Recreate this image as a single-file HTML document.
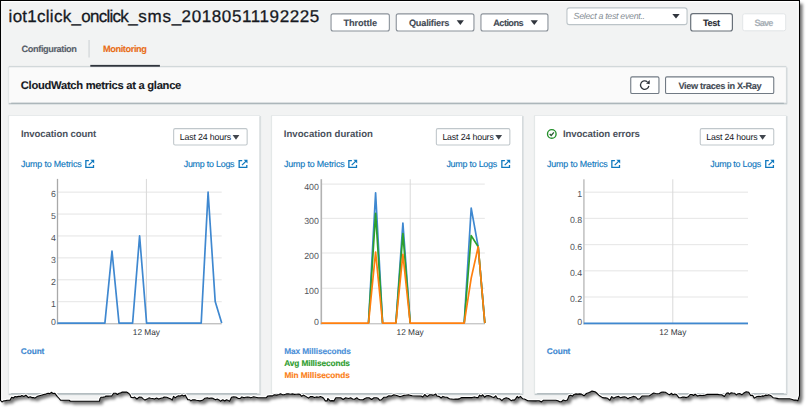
<!DOCTYPE html>
<html>
<head>
<meta charset="utf-8">
<title>Lambda monitoring</title>
<style>
html,body{margin:0;padding:0;background:#fff;}
body{width:810px;height:412px;position:relative;overflow:hidden;font-family:"Liberation Sans",sans-serif;}
#page{position:absolute;left:0;top:0;width:810px;height:412px;overflow:hidden;}
#bg{position:absolute;left:0;top:0;}
.t{position:absolute;white-space:nowrap;line-height:20px;text-rendering:geometricPrecision;}
</style>
</head>
<body>
<div id="page">
<svg id="bg" width="810" height="412" viewBox="0 0 810 412">
<defs>
<filter id="sh" x="-5%" y="-5%" width="110%" height="110%"><feGaussianBlur stdDeviation="1.6"/></filter>
<clipPath id="tear"><path d="M0.5,0.5 L799.5,0.5 L799.5,395.8 L799.5,395.8 L798.9,397.4 L797.8,400.8 L796.0,400.1 L793.7,400.1 L791.4,399.2 L789.6,398.8 L778.8,398.8 L777.0,398.4 L775.2,398.0 L773.3,397.8 L770.6,395.4 L768.6,394.7 L767.1,395.4 L765.3,395.1 L763.8,396.1 L762.2,395.9 L760.4,396.5 L759.0,396.3 L757.0,396.5 L754.3,398.1 L752.6,395.3 L750.6,395.4 L748.9,392.4 L746.2,391.7 L743.5,393.3 L741.8,394.8 L740.0,393.6 L738.0,393.7 L736.3,394.9 L734.7,393.3 L732.7,393.0 L731.2,392.7 L729.4,394.1 L728.2,392.9 L726.5,393.3 L724.4,396.5 L721.7,394.7 L719.9,394.8 L717.7,394.4 L706.8,394.4 L704.0,395.4 L702.0,395.5 L700.0,395.2 L697.5,396.0 L695.1,394.1 L693.6,395.5 L692.0,394.5 L690.1,394.5 L688.2,396.8 L686.3,397.6 L684.0,397.0 L682.6,397.1 L680.8,397.7 L679.0,397.8 L676.5,394.5 L674.7,394.1 L673.0,394.8 L671.6,393.3 L669.6,394.8 L667.9,393.9 L665.4,392.3 L663.0,392.0 L661.0,392.4 L659.3,393.5 L657.4,393.7 L655.5,393.5 L653.8,393.0 L651.9,394.1 L649.4,395.8 L642.0,396.0 L639.5,398.8 L637.7,399.1 L635.8,397.0 L633.3,396.4 L631.3,397.3 L629.6,397.6 L628.0,398.8 L626.5,397.6 L624.4,396.7 L622.7,397.1 L620.4,397.7 L618.5,396.4 L616.0,397.0 L613.6,398.2 L611.7,396.6 L609.9,400.3 L607.4,398.2 L605.7,397.7 L604.3,397.9 L602.5,397.6 L600.0,396.0 L598.8,395.1 L597.0,393.3 L595.0,391.7 L592.0,391.1 L590.3,391.9 L588.5,392.7 L586.4,393.5 L584.0,395.8 L581.5,394.1 L579.6,393.9 L577.9,394.1 L575.6,393.9 L574.0,394.5 L572.4,396.1 L570.6,395.2 L569.1,395.8 L567.3,400.1 L565.4,400.7 L563.3,400.0 L561.5,401.6 L559.7,401.8 L557.9,400.7 L555.9,400.3 L554.3,400.3 L543.2,400.3 L541.5,401.9 L539.2,400.7 L537.4,400.7 L535.8,400.9 L527.8,400.7 L525.9,399.7 L524.4,399.0 L522.8,398.8 L520.4,396.4 L518.7,397.9 L517.3,396.4 L515.7,398.6 L514.2,400.3 L512.8,399.9 L511.1,400.7 L508.6,398.5 L506.2,397.8 L503.8,398.7 L501.9,400.7 L500.0,398.8 L497.5,398.5 L495.7,395.8 L493.8,397.6 L492.2,397.1 L490.1,396.0 L488.3,395.6 L486.4,395.8 L484.6,397.2 L482.7,394.8 L481.1,396.1 L479.6,395.1 L478.2,397.6 L476.5,397.6 L474.4,396.9 L472.2,397.6 L470.4,397.6 L461.7,397.6 L459.8,398.6 L458.0,399.1 L455.7,399.0 L453.5,399.3 L451.3,399.0 L449.4,398.8 L446.9,397.2 L445.2,397.3 L442.9,396.4 L441.1,398.0 L439.5,396.6 L437.0,396.0 L435.8,393.9 L434.3,394.7 L432.7,395.1 L431.4,394.8 L429.6,394.8 L427.2,396.6 L424.7,394.5 L422.8,397.0 L421.0,396.0 L412.3,395.8 L410.4,395.4 L408.6,394.8 L407.1,395.0 L405.4,395.2 L403.7,395.4 L402.0,396.1 L400.0,396.8 L397.5,395.8 L395.8,395.3 L393.8,394.8 L391.4,396.0 L388.9,395.8 L386.4,397.2 L384.0,397.2 L381.5,399.7 L379.6,400.1 L378.1,398.3 L376.5,397.8 L374.0,397.8 L371.6,399.5 L369.1,397.8 L366.7,397.8 L364.9,398.5 L363.0,399.7 L361.5,399.7 L359.9,399.7 L358.2,398.9 L356.8,397.8 L354.5,399.3 L352.7,399.0 L350.6,397.8 L348.8,398.5 L347.5,398.2 L345.7,397.8 L343.2,399.5 L340.7,397.8 L339.1,397.7 L337.7,397.8 L335.8,397.8 L334.0,400.9 L332.0,400.6 L330.2,400.9 L327.8,398.5 L327.2,400.9 L325.3,400.9 L323.6,398.3 L322.2,397.2 L320.4,396.5 L318.5,397.2 L316.5,396.9 L314.3,397.6 L312.3,396.6 L310.6,396.5 L308.4,398.1 L306.2,396.6 L303.7,395.1 L301.6,396.3 L300.0,394.4 L298.3,394.1 L296.4,394.2 L294.3,394.4 L292.4,393.9 L290.4,394.2 L288.4,393.7 L286.4,393.9 L284.0,394.8 L282.6,394.7 L280.5,393.8 L279.0,394.5 L276.5,395.1 L274.3,394.7 L272.5,395.9 L270.2,395.7 L267.9,396.0 L266.0,397.8 L258.0,397.8 L255.6,397.2 L253.7,396.8 L252.3,397.3 L250.6,397.8 L249.4,397.2 L247.7,397.0 L245.7,397.2 L244.1,397.7 L241.9,396.9 L240.3,398.4 L238.3,398.5 L235.8,397.0 L233.5,396.9 L231.5,397.2 L229.6,401.2 L228.3,400.6 L226.5,399.7 L224.7,401.0 L222.8,399.7 L220.4,401.2 L219.1,399.9 L217.3,399.1 L215.5,399.8 L213.1,398.4 L211.3,398.0 L209.2,398.4 L207.4,397.8 L205.0,398.2 L202.5,400.3 L200.0,400.9 L198.0,400.5 L196.3,400.3 L194.8,399.9 L192.7,399.7 L190.9,400.9 L189.5,399.7 L187.8,399.6 L186.4,397.2 L185.2,395.1 L183.7,396.0 L182.1,395.1 L180.2,396.0 L178.5,395.8 L177.0,396.4 L175.3,397.8 L173.5,396.4 L172.2,400.1 L171.0,399.1 L169.0,398.2 L166.7,397.2 L164.2,397.0 L163.0,397.8 L160.9,398.2 L158.7,399.1 L156.6,398.1 L154.5,399.1 L152.6,398.5 L150.6,398.2 L149.0,397.9 L147.0,399.1 L145.0,400.1 L143.2,398.9 L141.4,397.2 L139.5,397.0 L138.3,397.8 L136.9,399.0 L134.7,397.1 L133.3,397.8 L131.2,397.4 L129.6,394.1 L127.8,392.8 L126.5,392.0 L124.2,392.1 L122.2,392.0 L121.0,392.9 L119.2,393.2 L117.4,394.5 L115.7,393.2 L113.6,393.3 L111.7,396.0 L109.9,396.0 L108.1,396.1 L106.0,396.0 L105.0,396.8 L103.2,397.1 L101.2,397.2 L100.0,398.5 L99.5,401.2 L70.4,401.2 L69.1,400.3 L60.5,400.1 L58.7,398.0 L57.4,396.6 L54.9,393.3 L53.0,393.5 L51.6,392.3 L49.8,393.6 L48.1,393.3 L45.7,394.1 L43.7,394.5 L41.4,395.2 L39.3,395.8 L37.0,396.6 L34.9,398.1 L33.3,397.6 L31.8,397.6 L30.2,396.8 L28.4,397.6 L25.9,395.1 L23.8,396.5 L21.9,395.6 L20.4,396.4 L18.5,396.4 L16.6,396.9 L15.1,396.5 L13.4,398.0 L11.7,397.2 L9.9,400.3 L7.6,400.2 L5.5,400.6 L3.7,400.9 L2.0,402.0 L0.5,400.3 Z"/></clipPath>
</defs>
<path d="M0.5,0.5 L799.5,0.5 L799.5,395.8 L799.5,395.8 L798.9,397.4 L797.8,400.8 L796.0,400.1 L793.7,400.1 L791.4,399.2 L789.6,398.8 L778.8,398.8 L777.0,398.4 L775.2,398.0 L773.3,397.8 L770.6,395.4 L768.6,394.7 L767.1,395.4 L765.3,395.1 L763.8,396.1 L762.2,395.9 L760.4,396.5 L759.0,396.3 L757.0,396.5 L754.3,398.1 L752.6,395.3 L750.6,395.4 L748.9,392.4 L746.2,391.7 L743.5,393.3 L741.8,394.8 L740.0,393.6 L738.0,393.7 L736.3,394.9 L734.7,393.3 L732.7,393.0 L731.2,392.7 L729.4,394.1 L728.2,392.9 L726.5,393.3 L724.4,396.5 L721.7,394.7 L719.9,394.8 L717.7,394.4 L706.8,394.4 L704.0,395.4 L702.0,395.5 L700.0,395.2 L697.5,396.0 L695.1,394.1 L693.6,395.5 L692.0,394.5 L690.1,394.5 L688.2,396.8 L686.3,397.6 L684.0,397.0 L682.6,397.1 L680.8,397.7 L679.0,397.8 L676.5,394.5 L674.7,394.1 L673.0,394.8 L671.6,393.3 L669.6,394.8 L667.9,393.9 L665.4,392.3 L663.0,392.0 L661.0,392.4 L659.3,393.5 L657.4,393.7 L655.5,393.5 L653.8,393.0 L651.9,394.1 L649.4,395.8 L642.0,396.0 L639.5,398.8 L637.7,399.1 L635.8,397.0 L633.3,396.4 L631.3,397.3 L629.6,397.6 L628.0,398.8 L626.5,397.6 L624.4,396.7 L622.7,397.1 L620.4,397.7 L618.5,396.4 L616.0,397.0 L613.6,398.2 L611.7,396.6 L609.9,400.3 L607.4,398.2 L605.7,397.7 L604.3,397.9 L602.5,397.6 L600.0,396.0 L598.8,395.1 L597.0,393.3 L595.0,391.7 L592.0,391.1 L590.3,391.9 L588.5,392.7 L586.4,393.5 L584.0,395.8 L581.5,394.1 L579.6,393.9 L577.9,394.1 L575.6,393.9 L574.0,394.5 L572.4,396.1 L570.6,395.2 L569.1,395.8 L567.3,400.1 L565.4,400.7 L563.3,400.0 L561.5,401.6 L559.7,401.8 L557.9,400.7 L555.9,400.3 L554.3,400.3 L543.2,400.3 L541.5,401.9 L539.2,400.7 L537.4,400.7 L535.8,400.9 L527.8,400.7 L525.9,399.7 L524.4,399.0 L522.8,398.8 L520.4,396.4 L518.7,397.9 L517.3,396.4 L515.7,398.6 L514.2,400.3 L512.8,399.9 L511.1,400.7 L508.6,398.5 L506.2,397.8 L503.8,398.7 L501.9,400.7 L500.0,398.8 L497.5,398.5 L495.7,395.8 L493.8,397.6 L492.2,397.1 L490.1,396.0 L488.3,395.6 L486.4,395.8 L484.6,397.2 L482.7,394.8 L481.1,396.1 L479.6,395.1 L478.2,397.6 L476.5,397.6 L474.4,396.9 L472.2,397.6 L470.4,397.6 L461.7,397.6 L459.8,398.6 L458.0,399.1 L455.7,399.0 L453.5,399.3 L451.3,399.0 L449.4,398.8 L446.9,397.2 L445.2,397.3 L442.9,396.4 L441.1,398.0 L439.5,396.6 L437.0,396.0 L435.8,393.9 L434.3,394.7 L432.7,395.1 L431.4,394.8 L429.6,394.8 L427.2,396.6 L424.7,394.5 L422.8,397.0 L421.0,396.0 L412.3,395.8 L410.4,395.4 L408.6,394.8 L407.1,395.0 L405.4,395.2 L403.7,395.4 L402.0,396.1 L400.0,396.8 L397.5,395.8 L395.8,395.3 L393.8,394.8 L391.4,396.0 L388.9,395.8 L386.4,397.2 L384.0,397.2 L381.5,399.7 L379.6,400.1 L378.1,398.3 L376.5,397.8 L374.0,397.8 L371.6,399.5 L369.1,397.8 L366.7,397.8 L364.9,398.5 L363.0,399.7 L361.5,399.7 L359.9,399.7 L358.2,398.9 L356.8,397.8 L354.5,399.3 L352.7,399.0 L350.6,397.8 L348.8,398.5 L347.5,398.2 L345.7,397.8 L343.2,399.5 L340.7,397.8 L339.1,397.7 L337.7,397.8 L335.8,397.8 L334.0,400.9 L332.0,400.6 L330.2,400.9 L327.8,398.5 L327.2,400.9 L325.3,400.9 L323.6,398.3 L322.2,397.2 L320.4,396.5 L318.5,397.2 L316.5,396.9 L314.3,397.6 L312.3,396.6 L310.6,396.5 L308.4,398.1 L306.2,396.6 L303.7,395.1 L301.6,396.3 L300.0,394.4 L298.3,394.1 L296.4,394.2 L294.3,394.4 L292.4,393.9 L290.4,394.2 L288.4,393.7 L286.4,393.9 L284.0,394.8 L282.6,394.7 L280.5,393.8 L279.0,394.5 L276.5,395.1 L274.3,394.7 L272.5,395.9 L270.2,395.7 L267.9,396.0 L266.0,397.8 L258.0,397.8 L255.6,397.2 L253.7,396.8 L252.3,397.3 L250.6,397.8 L249.4,397.2 L247.7,397.0 L245.7,397.2 L244.1,397.7 L241.9,396.9 L240.3,398.4 L238.3,398.5 L235.8,397.0 L233.5,396.9 L231.5,397.2 L229.6,401.2 L228.3,400.6 L226.5,399.7 L224.7,401.0 L222.8,399.7 L220.4,401.2 L219.1,399.9 L217.3,399.1 L215.5,399.8 L213.1,398.4 L211.3,398.0 L209.2,398.4 L207.4,397.8 L205.0,398.2 L202.5,400.3 L200.0,400.9 L198.0,400.5 L196.3,400.3 L194.8,399.9 L192.7,399.7 L190.9,400.9 L189.5,399.7 L187.8,399.6 L186.4,397.2 L185.2,395.1 L183.7,396.0 L182.1,395.1 L180.2,396.0 L178.5,395.8 L177.0,396.4 L175.3,397.8 L173.5,396.4 L172.2,400.1 L171.0,399.1 L169.0,398.2 L166.7,397.2 L164.2,397.0 L163.0,397.8 L160.9,398.2 L158.7,399.1 L156.6,398.1 L154.5,399.1 L152.6,398.5 L150.6,398.2 L149.0,397.9 L147.0,399.1 L145.0,400.1 L143.2,398.9 L141.4,397.2 L139.5,397.0 L138.3,397.8 L136.9,399.0 L134.7,397.1 L133.3,397.8 L131.2,397.4 L129.6,394.1 L127.8,392.8 L126.5,392.0 L124.2,392.1 L122.2,392.0 L121.0,392.9 L119.2,393.2 L117.4,394.5 L115.7,393.2 L113.6,393.3 L111.7,396.0 L109.9,396.0 L108.1,396.1 L106.0,396.0 L105.0,396.8 L103.2,397.1 L101.2,397.2 L100.0,398.5 L99.5,401.2 L70.4,401.2 L69.1,400.3 L60.5,400.1 L58.7,398.0 L57.4,396.6 L54.9,393.3 L53.0,393.5 L51.6,392.3 L49.8,393.6 L48.1,393.3 L45.7,394.1 L43.7,394.5 L41.4,395.2 L39.3,395.8 L37.0,396.6 L34.9,398.1 L33.3,397.6 L31.8,397.6 L30.2,396.8 L28.4,397.6 L25.9,395.1 L23.8,396.5 L21.9,395.6 L20.4,396.4 L18.5,396.4 L16.6,396.9 L15.1,396.5 L13.4,398.0 L11.7,397.2 L9.9,400.3 L7.6,400.2 L5.5,400.6 L3.7,400.9 L2.0,402.0 L0.5,400.3 Z" transform="translate(3.1,3.2)" fill="#000" fill-opacity="0.54" filter="url(#sh)"/>
<g clip-path="url(#tear)">
<rect x="0" y="0" width="800" height="412" fill="#f2f3f3"/>
<rect x="0.00" y="0.00" width="2.20" height="412.00" fill="#fff"/>
<rect x="0.00" y="0.00" width="800.00" height="1.90" fill="#fff"/>
<rect x="797.80" y="0.00" width="2.20" height="412.00" fill="#fff"/>
<rect x="8.50" y="101.60" width="778.80" height="3.30" fill="#e3e7e8"/>
<rect x="8.70" y="101.60" width="778.40" height="2.50" fill="#acb6ba"/>
<rect x="7.60" y="67.10" width="3.00" height="36.10" fill="#ebeeee"/>
<rect x="8.20" y="66.90" width="3.00" height="36.30" fill="#e3e6e7"/>
<rect x="783.90" y="67.60" width="3.90" height="35.80" fill="#e6e9ea"/>
<rect x="783.90" y="67.50" width="3.40" height="35.80" fill="#d5dadc"/>
<rect x="8.80" y="65.90" width="777.60" height="2.00" fill="#d2d8da"/>
<rect x="9.10" y="67.30" width="776.80" height="35.30" fill="#fafafa"/>
<rect x="8.50" y="392.10" width="252.20" height="3.30" fill="#e3e7e8"/>
<rect x="8.70" y="392.10" width="251.80" height="2.50" fill="#acb6ba"/>
<rect x="7.60" y="115.60" width="3.00" height="278.10" fill="#ebeeee"/>
<rect x="8.20" y="115.40" width="3.00" height="278.30" fill="#e3e6e7"/>
<rect x="257.30" y="116.10" width="3.90" height="277.80" fill="#e6e9ea"/>
<rect x="257.30" y="116.00" width="3.40" height="277.80" fill="#d5dadc"/>
<rect x="8.80" y="115.00" width="251.00" height="2.00" fill="#e1e5e6"/>
<rect x="9.10" y="115.80" width="250.20" height="277.30" fill="#fff"/>
<rect x="271.50" y="392.10" width="251.90" height="3.30" fill="#e3e7e8"/>
<rect x="271.70" y="392.10" width="251.50" height="2.50" fill="#acb6ba"/>
<rect x="270.60" y="115.60" width="3.00" height="278.10" fill="#ebeeee"/>
<rect x="271.20" y="115.40" width="3.00" height="278.30" fill="#e3e6e7"/>
<rect x="520.00" y="116.10" width="3.90" height="277.80" fill="#e6e9ea"/>
<rect x="520.00" y="116.00" width="3.40" height="277.80" fill="#d5dadc"/>
<rect x="271.80" y="115.00" width="250.70" height="2.00" fill="#e1e5e6"/>
<rect x="272.10" y="115.80" width="249.90" height="277.30" fill="#fff"/>
<rect x="534.50" y="392.10" width="252.80" height="3.30" fill="#e3e7e8"/>
<rect x="534.70" y="392.10" width="252.40" height="2.50" fill="#acb6ba"/>
<rect x="533.60" y="115.60" width="3.00" height="278.10" fill="#ebeeee"/>
<rect x="534.20" y="115.40" width="3.00" height="278.30" fill="#e3e6e7"/>
<rect x="783.90" y="116.10" width="3.90" height="277.80" fill="#e6e9ea"/>
<rect x="783.90" y="116.00" width="3.40" height="277.80" fill="#d5dadc"/>
<rect x="534.80" y="115.00" width="251.60" height="2.00" fill="#e1e5e6"/>
<rect x="535.10" y="115.80" width="250.80" height="277.30" fill="#fff"/>
<rect x="88.50" y="40.00" width="1.10" height="17.50" fill="#cdd3d6"/>
<rect x="90.30" y="64.90" width="69.60" height="1.80" fill="#2f343c"/>
<rect x="331.05" y="13.85" width="58.30" height="17.10" rx="2" fill="#fff" stroke="#8a9199" stroke-width="1.1"/>
<rect x="396.25" y="13.85" width="77.70" height="17.10" rx="2" fill="#fff" stroke="#8a9199" stroke-width="1.1"/>
<path d="M456.70,20.20 L463.90,20.20 L460.30,24.90 Z" fill="#30353d"/>
<rect x="480.95" y="13.85" width="67.00" height="17.10" rx="2" fill="#fff" stroke="#8a9199" stroke-width="1.1"/>
<path d="M530.60,20.20 L537.90,20.20 L534.25,24.90 Z" fill="#30353d"/>
<rect x="566.95" y="7.85" width="120.10" height="16.80" rx="2.5" fill="#fff" stroke="#bcc4c8" stroke-width="1.1"/>
<path d="M672.30,13.90 L679.70,13.90 L676.00,18.60 Z" fill="#30353d"/>
<rect x="690.70" y="13.70" width="41.70" height="17.30" rx="2.2" fill="#fff" stroke="#687079" stroke-width="1.2"/>
<rect x="742.70" y="13.80" width="43.00" height="17.00" rx="2" fill="#fff" stroke="#e2e5e7" stroke-width="1"/>
<rect x="630.75" y="76.85" width="28.20" height="16.60" rx="1.3" fill="#fff" stroke="#717a84" stroke-width="1.1"/>
<rect x="665.55" y="76.85" width="108.20" height="16.60" rx="1.3" fill="#fff" stroke="#717a84" stroke-width="1.1"/>
<g transform="translate(644.7,85.1)"><path d="M2.7,-3.25 A4.2,4.2 0 1 0 4.15,0.7" fill="none" stroke="#30353d" stroke-width="1.3"/><path d="M5.1,-5 L5.0,-0.8 L1.3,-1.7 Z" fill="#30353d"/></g>
<rect x="173.65" y="128.65" width="73.50" height="16.40" rx="1.5" fill="#fff" stroke="#c0c7cb" stroke-width="1.1"/>
<path d="M232.60,135.00 L239.40,135.00 L236.00,139.70 Z" fill="#41464e"/>
<g transform="translate(85.20,159.80)" stroke="#0f78be" stroke-width="1.3" fill="none"><path d="M3.7,0.75 H0.65 V7.6 H8.3 V5.1"/><path d="M3.5,5.3 L7.6,1.3"/><path d="M5.2,0 H9 V3.7 Z" fill="#0f78be" stroke="none"/></g>
<g transform="translate(238.50,159.80)" stroke="#0f78be" stroke-width="1.3" fill="none"><path d="M3.7,0.75 H0.65 V7.6 H8.3 V5.1"/><path d="M3.5,5.3 L7.6,1.3"/><path d="M5.2,0 H9 V3.7 Z" fill="#0f78be" stroke="none"/></g>
<rect x="436.35" y="128.65" width="73.50" height="16.40" rx="1.5" fill="#fff" stroke="#c0c7cb" stroke-width="1.1"/>
<path d="M495.30,135.00 L502.10,135.00 L498.70,139.70 Z" fill="#41464e"/>
<g transform="translate(348.20,159.80)" stroke="#0f78be" stroke-width="1.3" fill="none"><path d="M3.7,0.75 H0.65 V7.6 H8.3 V5.1"/><path d="M3.5,5.3 L7.6,1.3"/><path d="M5.2,0 H9 V3.7 Z" fill="#0f78be" stroke="none"/></g>
<g transform="translate(501.20,159.80)" stroke="#0f78be" stroke-width="1.3" fill="none"><path d="M3.7,0.75 H0.65 V7.6 H8.3 V5.1"/><path d="M3.5,5.3 L7.6,1.3"/><path d="M5.2,0 H9 V3.7 Z" fill="#0f78be" stroke="none"/></g>
<rect x="700.25" y="128.65" width="73.50" height="16.40" rx="1.5" fill="#fff" stroke="#c0c7cb" stroke-width="1.1"/>
<path d="M759.20,135.00 L766.00,135.00 L762.60,139.70 Z" fill="#41464e"/>
<g transform="translate(611.20,159.80)" stroke="#0f78be" stroke-width="1.3" fill="none"><path d="M3.7,0.75 H0.65 V7.6 H8.3 V5.1"/><path d="M3.5,5.3 L7.6,1.3"/><path d="M5.2,0 H9 V3.7 Z" fill="#0f78be" stroke="none"/></g>
<g transform="translate(765.10,159.80)" stroke="#0f78be" stroke-width="1.3" fill="none"><path d="M3.7,0.75 H0.65 V7.6 H8.3 V5.1"/><path d="M3.5,5.3 L7.6,1.3"/><path d="M5.2,0 H9 V3.7 Z" fill="#0f78be" stroke="none"/></g>
<g transform="translate(551.8,133.9)" fill="none"><circle r="4.3" stroke="#23902a" stroke-width="1.35"/><path d="M-2.1,0.1 L-0.6,1.6 L2.1,-1.5" stroke="#2c5a33" stroke-width="1.35"/></g>
<rect x="57.50" y="191.55" width="164.20" height="1.20" fill="#e9e9e9"/>
<rect x="57.50" y="213.45" width="164.20" height="1.20" fill="#e9e9e9"/>
<rect x="57.50" y="235.35" width="164.20" height="1.20" fill="#e9e9e9"/>
<rect x="57.50" y="257.25" width="164.20" height="1.20" fill="#e9e9e9"/>
<rect x="57.50" y="279.15" width="164.20" height="1.20" fill="#e9e9e9"/>
<rect x="57.50" y="301.05" width="164.20" height="1.20" fill="#e9e9e9"/>
<rect x="145.90" y="178.90" width="1.00" height="144.50" fill="#d9d9d9"/>
<rect x="56.85" y="178.90" width="1.30" height="145.40" fill="#a9a9a9"/>
<rect x="56.85" y="323.30" width="164.85" height="1.00" fill="#a9a9a9"/>
<polyline points="57.5,323.1 104.9,323.1 112.0,251.2 119.0,323.1 132.6,323.1 139.6,235.9 146.6,323.1 201.2,323.1 208.1,192.2 215.2,301.5 221.7,323.1" fill="none" stroke="#3f88d0" stroke-width="1.7" stroke-linejoin="round"/>
<rect x="321.30" y="183.50" width="163.50" height="1.20" fill="#e9e9e9"/>
<rect x="321.30" y="217.80" width="163.50" height="1.20" fill="#e9e9e9"/>
<rect x="321.30" y="252.40" width="163.50" height="1.20" fill="#e9e9e9"/>
<rect x="321.30" y="287.70" width="163.50" height="1.20" fill="#e9e9e9"/>
<rect x="409.70" y="179.20" width="1.00" height="144.20" fill="#d9d9d9"/>
<rect x="320.50" y="179.20" width="1.60" height="145.10" fill="#b2b2b2"/>
<rect x="320.50" y="323.30" width="164.30" height="1.00" fill="#b2b2b2"/>
<polyline points="368.5,323.1 375.6,192.8 382.6,323.1" fill="none" stroke="#3f88d0" stroke-width="1.7" stroke-linejoin="round"/>
<polyline points="395.9,323.1 402.9,223.1 410.2,323.1" fill="none" stroke="#3f88d0" stroke-width="1.7" stroke-linejoin="round"/>
<polyline points="464.2,323.1 471.2,208.1 478.2,246.8 484.8,323.1" fill="none" stroke="#3f88d0" stroke-width="1.7" stroke-linejoin="round"/>
<polyline points="368.5,323.1 375.6,213.4 382.6,323.1" fill="none" stroke="#2ca02c" stroke-width="1.7" stroke-linejoin="round"/>
<polyline points="395.9,323.1 402.9,233.6 410.2,323.1" fill="none" stroke="#2ca02c" stroke-width="1.7" stroke-linejoin="round"/>
<polyline points="464.2,323.1 471.2,235.6 478.2,246.8 484.8,323.1" fill="none" stroke="#2ca02c" stroke-width="1.7" stroke-linejoin="round"/>
<polyline points="321.3,323.1 368.5,323.1 375.6,252.0 382.6,323.1 395.9,323.1 402.9,254.4 410.2,323.1 464.2,323.1 471.2,278.1 478.2,246.8 484.8,323.1" fill="none" stroke="#ff7f0e" stroke-width="1.7" stroke-linejoin="round"/>
<rect x="583.90" y="191.60" width="164.10" height="1.20" fill="#e9e9e9"/>
<rect x="583.90" y="217.80" width="164.10" height="1.20" fill="#e9e9e9"/>
<rect x="583.90" y="244.00" width="164.10" height="1.20" fill="#e9e9e9"/>
<rect x="583.90" y="270.20" width="164.10" height="1.20" fill="#e9e9e9"/>
<rect x="583.90" y="296.40" width="164.10" height="1.20" fill="#e9e9e9"/>
<rect x="672.30" y="179.30" width="1.00" height="144.10" fill="#d9d9d9"/>
<rect x="583.10" y="179.30" width="1.60" height="145.00" fill="#c4c4c4"/>
<rect x="583.10" y="323.30" width="164.90" height="1.00" fill="#c4c4c4"/>
<polyline points="583.8,323.4 748.0,323.4" fill="none" stroke="#3f88d0" stroke-width="1.7" stroke-linejoin="round"/>
<path d="M0.5,0.5 L799.5,0.5 L799.5,395.8 L799.5,395.8 L798.9,397.4 L797.8,400.8 L796.0,400.1 L793.7,400.1 L791.4,399.2 L789.6,398.8 L778.8,398.8 L777.0,398.4 L775.2,398.0 L773.3,397.8 L770.6,395.4 L768.6,394.7 L767.1,395.4 L765.3,395.1 L763.8,396.1 L762.2,395.9 L760.4,396.5 L759.0,396.3 L757.0,396.5 L754.3,398.1 L752.6,395.3 L750.6,395.4 L748.9,392.4 L746.2,391.7 L743.5,393.3 L741.8,394.8 L740.0,393.6 L738.0,393.7 L736.3,394.9 L734.7,393.3 L732.7,393.0 L731.2,392.7 L729.4,394.1 L728.2,392.9 L726.5,393.3 L724.4,396.5 L721.7,394.7 L719.9,394.8 L717.7,394.4 L706.8,394.4 L704.0,395.4 L702.0,395.5 L700.0,395.2 L697.5,396.0 L695.1,394.1 L693.6,395.5 L692.0,394.5 L690.1,394.5 L688.2,396.8 L686.3,397.6 L684.0,397.0 L682.6,397.1 L680.8,397.7 L679.0,397.8 L676.5,394.5 L674.7,394.1 L673.0,394.8 L671.6,393.3 L669.6,394.8 L667.9,393.9 L665.4,392.3 L663.0,392.0 L661.0,392.4 L659.3,393.5 L657.4,393.7 L655.5,393.5 L653.8,393.0 L651.9,394.1 L649.4,395.8 L642.0,396.0 L639.5,398.8 L637.7,399.1 L635.8,397.0 L633.3,396.4 L631.3,397.3 L629.6,397.6 L628.0,398.8 L626.5,397.6 L624.4,396.7 L622.7,397.1 L620.4,397.7 L618.5,396.4 L616.0,397.0 L613.6,398.2 L611.7,396.6 L609.9,400.3 L607.4,398.2 L605.7,397.7 L604.3,397.9 L602.5,397.6 L600.0,396.0 L598.8,395.1 L597.0,393.3 L595.0,391.7 L592.0,391.1 L590.3,391.9 L588.5,392.7 L586.4,393.5 L584.0,395.8 L581.5,394.1 L579.6,393.9 L577.9,394.1 L575.6,393.9 L574.0,394.5 L572.4,396.1 L570.6,395.2 L569.1,395.8 L567.3,400.1 L565.4,400.7 L563.3,400.0 L561.5,401.6 L559.7,401.8 L557.9,400.7 L555.9,400.3 L554.3,400.3 L543.2,400.3 L541.5,401.9 L539.2,400.7 L537.4,400.7 L535.8,400.9 L527.8,400.7 L525.9,399.7 L524.4,399.0 L522.8,398.8 L520.4,396.4 L518.7,397.9 L517.3,396.4 L515.7,398.6 L514.2,400.3 L512.8,399.9 L511.1,400.7 L508.6,398.5 L506.2,397.8 L503.8,398.7 L501.9,400.7 L500.0,398.8 L497.5,398.5 L495.7,395.8 L493.8,397.6 L492.2,397.1 L490.1,396.0 L488.3,395.6 L486.4,395.8 L484.6,397.2 L482.7,394.8 L481.1,396.1 L479.6,395.1 L478.2,397.6 L476.5,397.6 L474.4,396.9 L472.2,397.6 L470.4,397.6 L461.7,397.6 L459.8,398.6 L458.0,399.1 L455.7,399.0 L453.5,399.3 L451.3,399.0 L449.4,398.8 L446.9,397.2 L445.2,397.3 L442.9,396.4 L441.1,398.0 L439.5,396.6 L437.0,396.0 L435.8,393.9 L434.3,394.7 L432.7,395.1 L431.4,394.8 L429.6,394.8 L427.2,396.6 L424.7,394.5 L422.8,397.0 L421.0,396.0 L412.3,395.8 L410.4,395.4 L408.6,394.8 L407.1,395.0 L405.4,395.2 L403.7,395.4 L402.0,396.1 L400.0,396.8 L397.5,395.8 L395.8,395.3 L393.8,394.8 L391.4,396.0 L388.9,395.8 L386.4,397.2 L384.0,397.2 L381.5,399.7 L379.6,400.1 L378.1,398.3 L376.5,397.8 L374.0,397.8 L371.6,399.5 L369.1,397.8 L366.7,397.8 L364.9,398.5 L363.0,399.7 L361.5,399.7 L359.9,399.7 L358.2,398.9 L356.8,397.8 L354.5,399.3 L352.7,399.0 L350.6,397.8 L348.8,398.5 L347.5,398.2 L345.7,397.8 L343.2,399.5 L340.7,397.8 L339.1,397.7 L337.7,397.8 L335.8,397.8 L334.0,400.9 L332.0,400.6 L330.2,400.9 L327.8,398.5 L327.2,400.9 L325.3,400.9 L323.6,398.3 L322.2,397.2 L320.4,396.5 L318.5,397.2 L316.5,396.9 L314.3,397.6 L312.3,396.6 L310.6,396.5 L308.4,398.1 L306.2,396.6 L303.7,395.1 L301.6,396.3 L300.0,394.4 L298.3,394.1 L296.4,394.2 L294.3,394.4 L292.4,393.9 L290.4,394.2 L288.4,393.7 L286.4,393.9 L284.0,394.8 L282.6,394.7 L280.5,393.8 L279.0,394.5 L276.5,395.1 L274.3,394.7 L272.5,395.9 L270.2,395.7 L267.9,396.0 L266.0,397.8 L258.0,397.8 L255.6,397.2 L253.7,396.8 L252.3,397.3 L250.6,397.8 L249.4,397.2 L247.7,397.0 L245.7,397.2 L244.1,397.7 L241.9,396.9 L240.3,398.4 L238.3,398.5 L235.8,397.0 L233.5,396.9 L231.5,397.2 L229.6,401.2 L228.3,400.6 L226.5,399.7 L224.7,401.0 L222.8,399.7 L220.4,401.2 L219.1,399.9 L217.3,399.1 L215.5,399.8 L213.1,398.4 L211.3,398.0 L209.2,398.4 L207.4,397.8 L205.0,398.2 L202.5,400.3 L200.0,400.9 L198.0,400.5 L196.3,400.3 L194.8,399.9 L192.7,399.7 L190.9,400.9 L189.5,399.7 L187.8,399.6 L186.4,397.2 L185.2,395.1 L183.7,396.0 L182.1,395.1 L180.2,396.0 L178.5,395.8 L177.0,396.4 L175.3,397.8 L173.5,396.4 L172.2,400.1 L171.0,399.1 L169.0,398.2 L166.7,397.2 L164.2,397.0 L163.0,397.8 L160.9,398.2 L158.7,399.1 L156.6,398.1 L154.5,399.1 L152.6,398.5 L150.6,398.2 L149.0,397.9 L147.0,399.1 L145.0,400.1 L143.2,398.9 L141.4,397.2 L139.5,397.0 L138.3,397.8 L136.9,399.0 L134.7,397.1 L133.3,397.8 L131.2,397.4 L129.6,394.1 L127.8,392.8 L126.5,392.0 L124.2,392.1 L122.2,392.0 L121.0,392.9 L119.2,393.2 L117.4,394.5 L115.7,393.2 L113.6,393.3 L111.7,396.0 L109.9,396.0 L108.1,396.1 L106.0,396.0 L105.0,396.8 L103.2,397.1 L101.2,397.2 L100.0,398.5 L99.5,401.2 L70.4,401.2 L69.1,400.3 L60.5,400.1 L58.7,398.0 L57.4,396.6 L54.9,393.3 L53.0,393.5 L51.6,392.3 L49.8,393.6 L48.1,393.3 L45.7,394.1 L43.7,394.5 L41.4,395.2 L39.3,395.8 L37.0,396.6 L34.9,398.1 L33.3,397.6 L31.8,397.6 L30.2,396.8 L28.4,397.6 L25.9,395.1 L23.8,396.5 L21.9,395.6 L20.4,396.4 L18.5,396.4 L16.6,396.9 L15.1,396.5 L13.4,398.0 L11.7,397.2 L9.9,400.3 L7.6,400.2 L5.5,400.6 L3.7,400.9 L2.0,402.0 L0.5,400.3 Z" fill="none" stroke="#fff" stroke-width="3.3" stroke-linejoin="round"/>
</g>
<path d="M0.5,0.5 L799.5,0.5 L799.5,395.8 L799.5,395.8 L798.9,397.4 L797.8,400.8 L796.0,400.1 L793.7,400.1 L791.4,399.2 L789.6,398.8 L778.8,398.8 L777.0,398.4 L775.2,398.0 L773.3,397.8 L770.6,395.4 L768.6,394.7 L767.1,395.4 L765.3,395.1 L763.8,396.1 L762.2,395.9 L760.4,396.5 L759.0,396.3 L757.0,396.5 L754.3,398.1 L752.6,395.3 L750.6,395.4 L748.9,392.4 L746.2,391.7 L743.5,393.3 L741.8,394.8 L740.0,393.6 L738.0,393.7 L736.3,394.9 L734.7,393.3 L732.7,393.0 L731.2,392.7 L729.4,394.1 L728.2,392.9 L726.5,393.3 L724.4,396.5 L721.7,394.7 L719.9,394.8 L717.7,394.4 L706.8,394.4 L704.0,395.4 L702.0,395.5 L700.0,395.2 L697.5,396.0 L695.1,394.1 L693.6,395.5 L692.0,394.5 L690.1,394.5 L688.2,396.8 L686.3,397.6 L684.0,397.0 L682.6,397.1 L680.8,397.7 L679.0,397.8 L676.5,394.5 L674.7,394.1 L673.0,394.8 L671.6,393.3 L669.6,394.8 L667.9,393.9 L665.4,392.3 L663.0,392.0 L661.0,392.4 L659.3,393.5 L657.4,393.7 L655.5,393.5 L653.8,393.0 L651.9,394.1 L649.4,395.8 L642.0,396.0 L639.5,398.8 L637.7,399.1 L635.8,397.0 L633.3,396.4 L631.3,397.3 L629.6,397.6 L628.0,398.8 L626.5,397.6 L624.4,396.7 L622.7,397.1 L620.4,397.7 L618.5,396.4 L616.0,397.0 L613.6,398.2 L611.7,396.6 L609.9,400.3 L607.4,398.2 L605.7,397.7 L604.3,397.9 L602.5,397.6 L600.0,396.0 L598.8,395.1 L597.0,393.3 L595.0,391.7 L592.0,391.1 L590.3,391.9 L588.5,392.7 L586.4,393.5 L584.0,395.8 L581.5,394.1 L579.6,393.9 L577.9,394.1 L575.6,393.9 L574.0,394.5 L572.4,396.1 L570.6,395.2 L569.1,395.8 L567.3,400.1 L565.4,400.7 L563.3,400.0 L561.5,401.6 L559.7,401.8 L557.9,400.7 L555.9,400.3 L554.3,400.3 L543.2,400.3 L541.5,401.9 L539.2,400.7 L537.4,400.7 L535.8,400.9 L527.8,400.7 L525.9,399.7 L524.4,399.0 L522.8,398.8 L520.4,396.4 L518.7,397.9 L517.3,396.4 L515.7,398.6 L514.2,400.3 L512.8,399.9 L511.1,400.7 L508.6,398.5 L506.2,397.8 L503.8,398.7 L501.9,400.7 L500.0,398.8 L497.5,398.5 L495.7,395.8 L493.8,397.6 L492.2,397.1 L490.1,396.0 L488.3,395.6 L486.4,395.8 L484.6,397.2 L482.7,394.8 L481.1,396.1 L479.6,395.1 L478.2,397.6 L476.5,397.6 L474.4,396.9 L472.2,397.6 L470.4,397.6 L461.7,397.6 L459.8,398.6 L458.0,399.1 L455.7,399.0 L453.5,399.3 L451.3,399.0 L449.4,398.8 L446.9,397.2 L445.2,397.3 L442.9,396.4 L441.1,398.0 L439.5,396.6 L437.0,396.0 L435.8,393.9 L434.3,394.7 L432.7,395.1 L431.4,394.8 L429.6,394.8 L427.2,396.6 L424.7,394.5 L422.8,397.0 L421.0,396.0 L412.3,395.8 L410.4,395.4 L408.6,394.8 L407.1,395.0 L405.4,395.2 L403.7,395.4 L402.0,396.1 L400.0,396.8 L397.5,395.8 L395.8,395.3 L393.8,394.8 L391.4,396.0 L388.9,395.8 L386.4,397.2 L384.0,397.2 L381.5,399.7 L379.6,400.1 L378.1,398.3 L376.5,397.8 L374.0,397.8 L371.6,399.5 L369.1,397.8 L366.7,397.8 L364.9,398.5 L363.0,399.7 L361.5,399.7 L359.9,399.7 L358.2,398.9 L356.8,397.8 L354.5,399.3 L352.7,399.0 L350.6,397.8 L348.8,398.5 L347.5,398.2 L345.7,397.8 L343.2,399.5 L340.7,397.8 L339.1,397.7 L337.7,397.8 L335.8,397.8 L334.0,400.9 L332.0,400.6 L330.2,400.9 L327.8,398.5 L327.2,400.9 L325.3,400.9 L323.6,398.3 L322.2,397.2 L320.4,396.5 L318.5,397.2 L316.5,396.9 L314.3,397.6 L312.3,396.6 L310.6,396.5 L308.4,398.1 L306.2,396.6 L303.7,395.1 L301.6,396.3 L300.0,394.4 L298.3,394.1 L296.4,394.2 L294.3,394.4 L292.4,393.9 L290.4,394.2 L288.4,393.7 L286.4,393.9 L284.0,394.8 L282.6,394.7 L280.5,393.8 L279.0,394.5 L276.5,395.1 L274.3,394.7 L272.5,395.9 L270.2,395.7 L267.9,396.0 L266.0,397.8 L258.0,397.8 L255.6,397.2 L253.7,396.8 L252.3,397.3 L250.6,397.8 L249.4,397.2 L247.7,397.0 L245.7,397.2 L244.1,397.7 L241.9,396.9 L240.3,398.4 L238.3,398.5 L235.8,397.0 L233.5,396.9 L231.5,397.2 L229.6,401.2 L228.3,400.6 L226.5,399.7 L224.7,401.0 L222.8,399.7 L220.4,401.2 L219.1,399.9 L217.3,399.1 L215.5,399.8 L213.1,398.4 L211.3,398.0 L209.2,398.4 L207.4,397.8 L205.0,398.2 L202.5,400.3 L200.0,400.9 L198.0,400.5 L196.3,400.3 L194.8,399.9 L192.7,399.7 L190.9,400.9 L189.5,399.7 L187.8,399.6 L186.4,397.2 L185.2,395.1 L183.7,396.0 L182.1,395.1 L180.2,396.0 L178.5,395.8 L177.0,396.4 L175.3,397.8 L173.5,396.4 L172.2,400.1 L171.0,399.1 L169.0,398.2 L166.7,397.2 L164.2,397.0 L163.0,397.8 L160.9,398.2 L158.7,399.1 L156.6,398.1 L154.5,399.1 L152.6,398.5 L150.6,398.2 L149.0,397.9 L147.0,399.1 L145.0,400.1 L143.2,398.9 L141.4,397.2 L139.5,397.0 L138.3,397.8 L136.9,399.0 L134.7,397.1 L133.3,397.8 L131.2,397.4 L129.6,394.1 L127.8,392.8 L126.5,392.0 L124.2,392.1 L122.2,392.0 L121.0,392.9 L119.2,393.2 L117.4,394.5 L115.7,393.2 L113.6,393.3 L111.7,396.0 L109.9,396.0 L108.1,396.1 L106.0,396.0 L105.0,396.8 L103.2,397.1 L101.2,397.2 L100.0,398.5 L99.5,401.2 L70.4,401.2 L69.1,400.3 L60.5,400.1 L58.7,398.0 L57.4,396.6 L54.9,393.3 L53.0,393.5 L51.6,392.3 L49.8,393.6 L48.1,393.3 L45.7,394.1 L43.7,394.5 L41.4,395.2 L39.3,395.8 L37.0,396.6 L34.9,398.1 L33.3,397.6 L31.8,397.6 L30.2,396.8 L28.4,397.6 L25.9,395.1 L23.8,396.5 L21.9,395.6 L20.4,396.4 L18.5,396.4 L16.6,396.9 L15.1,396.5 L13.4,398.0 L11.7,397.2 L9.9,400.3 L7.6,400.2 L5.5,400.6 L3.7,400.9 L2.0,402.0 L0.5,400.3 Z" fill="none" stroke="#000" stroke-width="1.1" stroke-linejoin="round"/>
</svg>
<span class="t" style="top:13px;left:343.50px;font-size:9.20px;color:#444b55;font-weight:bold;-webkit-text-stroke:0.12px #444b55;letter-spacing:-0.091px;">Throttle</span>
<span class="t" style="top:13px;left:408.90px;font-size:9.20px;color:#444b55;font-weight:bold;-webkit-text-stroke:0.12px #444b55;letter-spacing:-0.204px;">Qualifiers</span>
<span class="t" style="top:13px;left:493.30px;font-size:9.20px;color:#444b55;font-weight:bold;-webkit-text-stroke:0.12px #444b55;letter-spacing:-0.573px;">Actions</span>
<span class="t" style="top:6px;left:573.60px;font-size:8.80px;color:#858d94;font-style:italic;letter-spacing:-0.294px;">Select a test event..</span>
<span class="t" style="top:13px;left:703.10px;font-size:9.20px;color:#262b32;font-weight:bold;-webkit-text-stroke:0.12px #262b32;letter-spacing:-0.445px;">Test</span>
<span class="t" style="top:13px;left:754.60px;font-size:9.20px;color:#a9b1b8;font-weight:bold;-webkit-text-stroke:0.12px #a9b1b8;letter-spacing:-0.895px;">Save</span>
<span class="t" style="top:7px;left:8.60px;font-size:17.00px;color:#16191f;letter-spacing:0.265px;-webkit-text-stroke:0.3px #16191f;">iot1click_</span>
<span class="t" style="top:7px;left:81.30px;font-size:17.00px;color:#16191f;letter-spacing:-0.731px;-webkit-text-stroke:0.3px #16191f;">onclick_</span>
<span class="t" style="top:7px;left:138.20px;font-size:17.00px;color:#16191f;letter-spacing:0.795px;-webkit-text-stroke:0.3px #16191f;">sms_</span>
<span class="t" style="top:7px;left:181.60px;font-size:17.00px;color:#16191f;letter-spacing:0.604px;-webkit-text-stroke:0.3px #16191f;">20180511192225</span>
<span class="t" style="top:39px;left:21.60px;font-size:9.20px;color:#59616b;font-weight:bold;-webkit-text-stroke:0.12px #59616b;letter-spacing:-0.408px;">Configuration</span>
<span class="t" style="top:39px;left:103.00px;font-size:9.20px;color:#e96d17;font-weight:bold;-webkit-text-stroke:0.12px #e96d17;letter-spacing:-0.391px;">Monitoring</span>
<span class="t" style="top:76px;left:20.80px;font-size:11.20px;color:#16191f;font-weight:bold;-webkit-text-stroke:0.12px #16191f;letter-spacing:-0.282px;">CloudWatch metrics at a glance</span>
<span class="t" style="top:76px;left:678.40px;font-size:9.20px;color:#444b55;font-weight:bold;-webkit-text-stroke:0.12px #444b55;letter-spacing:-0.344px;">View traces in X-Ray</span>
<span class="t" style="top:125px;left:20.90px;font-size:9.60px;color:#4a515c;font-weight:bold;-webkit-text-stroke:0.12px #4a515c;letter-spacing:-0.093px;-webkit-text-stroke:0;">Invocation count</span>
<span class="t" style="top:127px;left:179.70px;font-size:8.80px;color:#16191f;letter-spacing:-0.160px;">Last 24 hours</span>
<span class="t" style="top:154px;left:20.90px;font-size:8.90px;color:#0f78be;letter-spacing:-0.136px;-webkit-text-stroke:0.15px #0f78be;">Jump to Metrics</span>
<span class="t" style="top:154px;left:183.70px;font-size:8.90px;color:#0f78be;letter-spacing:-0.221px;-webkit-text-stroke:0.15px #0f78be;">Jump to Logs</span>
<span class="t" style="top:125px;left:283.80px;font-size:9.60px;color:#4a515c;font-weight:bold;-webkit-text-stroke:0.12px #4a515c;letter-spacing:0.007px;-webkit-text-stroke:0;">Invocation duration</span>
<span class="t" style="top:127px;left:442.40px;font-size:8.80px;color:#16191f;letter-spacing:-0.160px;">Last 24 hours</span>
<span class="t" style="top:154px;left:283.90px;font-size:8.90px;color:#0f78be;letter-spacing:-0.136px;-webkit-text-stroke:0.15px #0f78be;">Jump to Metrics</span>
<span class="t" style="top:154px;left:446.40px;font-size:8.90px;color:#0f78be;letter-spacing:-0.221px;-webkit-text-stroke:0.15px #0f78be;">Jump to Logs</span>
<span class="t" style="top:125px;left:563.00px;font-size:9.60px;color:#4a515c;font-weight:bold;-webkit-text-stroke:0.12px #4a515c;letter-spacing:-0.089px;-webkit-text-stroke:0;">Invocation errors</span>
<span class="t" style="top:127px;left:706.30px;font-size:8.80px;color:#16191f;letter-spacing:-0.160px;">Last 24 hours</span>
<span class="t" style="top:154px;left:546.90px;font-size:8.90px;color:#0f78be;letter-spacing:-0.136px;-webkit-text-stroke:0.15px #0f78be;">Jump to Metrics</span>
<span class="t" style="top:154px;left:710.30px;font-size:8.90px;color:#0f78be;letter-spacing:-0.221px;-webkit-text-stroke:0.15px #0f78be;">Jump to Logs</span>
<span class="t" style="top:184px;right:754.20px;font-size:8.80px;color:#4f5359;">6</span>
<span class="t" style="top:206px;right:754.20px;font-size:8.80px;color:#4f5359;">5</span>
<span class="t" style="top:228px;right:754.20px;font-size:8.80px;color:#4f5359;">4</span>
<span class="t" style="top:250px;right:754.20px;font-size:8.80px;color:#4f5359;">3</span>
<span class="t" style="top:272px;right:754.20px;font-size:8.80px;color:#4f5359;">2</span>
<span class="t" style="top:294px;right:754.20px;font-size:8.80px;color:#4f5359;">1</span>
<span class="t" style="top:312px;right:754.20px;font-size:8.80px;color:#4f5359;">0</span>
<span class="t" style="top:322px;left:132.80px;font-size:8.30px;color:#2f3237;letter-spacing:-0.024px;">12 May</span>
<span class="t" style="top:341px;left:20.80px;font-size:8.30px;color:#3d87d0;font-weight:bold;-webkit-text-stroke:0.12px #3d87d0;letter-spacing:-0.092px;">Count</span>
<span class="t" style="top:177px;right:491.20px;font-size:8.80px;color:#4f5359;">400</span>
<span class="t" style="top:211px;right:491.20px;font-size:8.80px;color:#4f5359;">300</span>
<span class="t" style="top:246px;right:491.20px;font-size:8.80px;color:#4f5359;">200</span>
<span class="t" style="top:281px;right:491.20px;font-size:8.80px;color:#4f5359;">100</span>
<span class="t" style="top:312px;right:491.20px;font-size:8.80px;color:#4f5359;">0</span>
<span class="t" style="top:322px;left:396.60px;font-size:8.30px;color:#2f3237;letter-spacing:-0.024px;">12 May</span>
<span class="t" style="top:341px;left:284.20px;font-size:8.30px;color:#4a8fd8;font-weight:bold;-webkit-text-stroke:0.12px #4a8fd8;letter-spacing:-0.098px;">Max Milliseconds</span>
<span class="t" style="top:353px;left:284.20px;font-size:8.30px;color:#2c9c2c;font-weight:bold;-webkit-text-stroke:0.12px #2c9c2c;letter-spacing:-0.113px;">Avg Milliseconds</span>
<span class="t" style="top:365px;left:284.40px;font-size:8.30px;color:#fb7d14;font-weight:bold;-webkit-text-stroke:0.12px #fb7d14;letter-spacing:-0.054px;">Min Milliseconds</span>
<span class="t" style="top:184px;right:227.90px;font-size:8.80px;color:#4f5359;">1</span>
<span class="t" style="top:210px;right:227.90px;font-size:8.80px;color:#4f5359;">0.8</span>
<span class="t" style="top:237px;right:227.90px;font-size:8.80px;color:#4f5359;">0.6</span>
<span class="t" style="top:263px;right:227.90px;font-size:8.80px;color:#4f5359;">0.4</span>
<span class="t" style="top:289px;right:227.90px;font-size:8.80px;color:#4f5359;">0.2</span>
<span class="t" style="top:312px;right:227.90px;font-size:8.80px;color:#4f5359;">0</span>
<span class="t" style="top:322px;left:659.20px;font-size:8.30px;color:#2f3237;letter-spacing:-0.024px;">12 May</span>
<span class="t" style="top:341px;left:546.80px;font-size:8.30px;color:#3d87d0;font-weight:bold;-webkit-text-stroke:0.12px #3d87d0;letter-spacing:-0.092px;">Count</span>
</div>
</body>
</html>
